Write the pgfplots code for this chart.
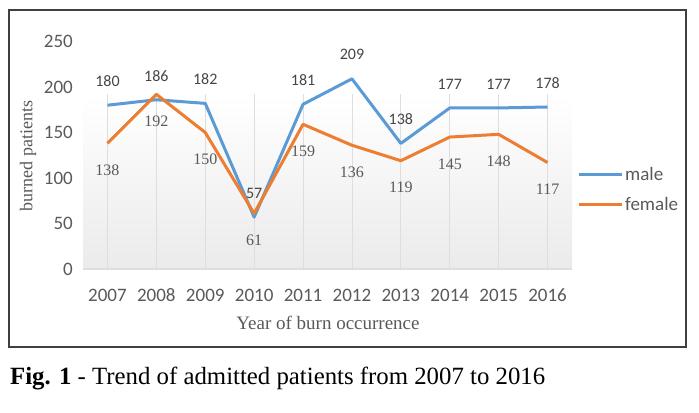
\documentclass[border=0pt]{standalone}
\usepackage{pgfplots}
\pgfplotsset{compat=1.18}
\usepackage{fontspec}
\setmainfont{Liberation Serif}
\newfontfamily\calibri{Carlito}
\definecolor{malecol}{RGB}{91,155,213}
\definecolor{femalecol}{RGB}{237,125,49}
\definecolor{txtgray}{RGB}{89,89,89}
\definecolor{lblgray}{RGB}{70,70,70}
\definecolor{gridgray}{RGB}{222,222,222}

\begin{document}
\begin{tikzpicture}
\path[use as bounding box] (0,0) rectangle (699bp,-413bp);
% frame round the chart
\draw[line width=1.3bp, black!75] (9bp,-10bp) rectangle (686bp,-347bp);

\begin{axis}[
  at={(83bp,-269bp)}, anchor=south west,
  scale only axis,
  width=489bp, height=227.5bp,
  xmin=-0.5, xmax=9.5,
  ymin=0, ymax=250,
  clip=false,
  /pgf/number format/assume math mode=true,
  axis line style={draw=none},
  major tick length=0pt,
  xtick={0,1,2,3,4,5,6,7,8,9},
  xticklabels={2007,2008,2009,2010,2011,2012,2013,2014,2015,2016},
  ytick={0,50,100,150,200,250},
  tick label style={font=\calibri\fontsize{19bp}{22bp}\selectfont, text=txtgray},
  xticklabel style={anchor=center, yshift=-26bp},
  yticklabel style={anchor=east, inner sep=0pt, xshift=-10bp},
  legend style={at={(1.0102,0.349)}, anchor=west, draw=none, fill=none,
    inner sep=0pt, row sep=12bp,
    font=\calibri\fontsize{19bp}{22bp}\selectfont, text=txtgray},
  legend cell align=left,
  legend image code/.code={\draw[#1] (0bp,0bp) -- (43bp,0bp);},
]
% plot area shading and category grid
\fill[top color=white, bottom color=black!8, draw=none]
  (axis cs:-0.5,0) rectangle (axis cs:9.5,192);
\pgfplotsinvokeforeach{0,...,9}{
  \draw[gridgray, line width=0.8bp] (axis cs:#1,0) -- (axis cs:#1,192);
}
\draw[gridgray, line width=1.2bp] (axis cs:-0.5,0) -- (axis cs:9.5,0);

% male
\addplot[malecol, line width=3bp, line join=round,
  nodes near coords,
  every node near coord/.append style={anchor=center, yshift=24bp,
    text=lblgray, font=\calibri\fontsize{16bp}{18bp}\selectfont}]
  coordinates {(0,180)(1,186)(2,182)(3,57)(4,181)(5,209)(6,138)(7,177)(8,177)(9,178)};
\addlegendentry{male}
% female
\addplot[femalecol, line width=3bp, line join=round,
  nodes near coords,
  every node near coord/.append style={anchor=center, yshift=-27bp,
    text=txtgray, font=\fontsize{16bp}{18bp}\selectfont}]
  coordinates {(0,138)(1,192)(2,150)(3,61)(4,159)(5,136)(6,119)(7,145)(8,148)(9,117)};
\addlegendentry{female}
\end{axis}

\node[rotate=90, text=txtgray, font=\fontsize{18bp}{21bp}\selectfont]
  at (28bp,-156bp) {burned patients};
\node[text=txtgray, font=\fontsize{19bp}{22bp}\selectfont]
  at (328bp,-323bp) {Year of burn occurrence};
\node[anchor=base west, inner sep=0pt, font=\fontsize{24.8bp}{28bp}\selectfont]
  at (10bp,-384bp) {\textbf{Fig. 1} - Trend of admitted patients from 2007 to 2016};
\end{tikzpicture}
\end{document}
